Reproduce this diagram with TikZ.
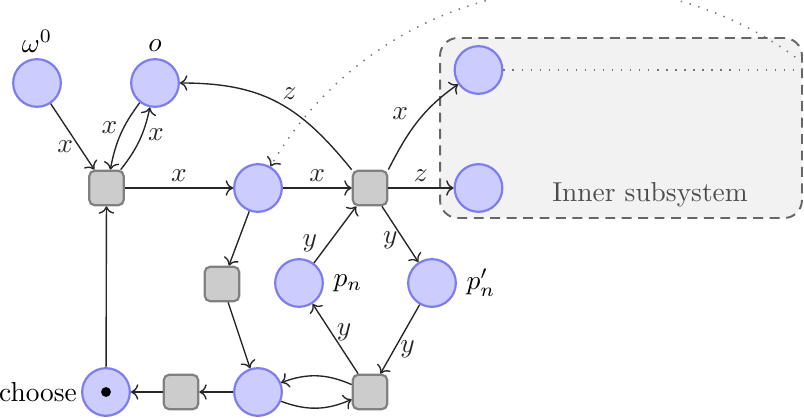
\documentclass[tikz,border=0pt]{standalone}
\usetikzlibrary{arrows.meta}
\definecolor{placeborder}{RGB}{125,125,240}
\definecolor{placefill}{RGB}{204,204,255}
\begin{document}
\begin{tikzpicture}[x=0.365pt,y=0.365pt,
  place/.style={circle,draw=placeborder,fill=placefill,line width=0.8pt,minimum size=17.4pt,inner sep=0pt},
  trans/.style={rectangle,draw=black!50,fill=black!20,line width=0.8pt,minimum size=12.6pt,inner sep=0pt,rounded corners=2pt},
  edge/.style={->,draw=black!85,line width=0.5pt},
  lbl/.style={inner sep=2pt,text=black!85},
  dots/.style={draw=black!55,line width=0.55pt,dash pattern=on 0.5pt off 2.8pt},
  innerbox/.style={rectangle,draw=black!60,fill=black!5,line width=0.7pt,dash pattern=on 3.6pt off 2.4pt,rounded corners=6.5pt,minimum width=132.1pt,minimum height=65.7pt,inner sep=0pt}]
\useasboundingbox (0,0) rectangle (804,418);
\clip (0,0) rectangle (804,418);
% inner subsystem box
\node[innerbox] (inner) at (621,290) {};
\node[text=black!70] (innerlabel) at (650,223) {Inner subsystem};
% places
\node[place,label={[label distance=-1.5pt]above:$\omega^0$}] (w0) at (37,335) {};
\node[place,label={[label distance=-1pt]above:$o$}] (o) at (155,335) {};
\node[place] (p2) at (258,230) {};
\node[place] (it) at (478.5,348) {};
\node[place] (ib) at (478.5,230) {};
\node[place,label=right:$p_n$] (pn) at (299,135) {};
\node[place,label=right:$p'_n$] (pnp) at (432,135) {};
\node[place] (pb) at (258,26) {};
\node[place,label={[label distance=-2pt]left:choose}] (ch) at (106,26) {};
\node[circle,fill=black,inner sep=0pt,minimum size=3.6pt] (tok) at (ch) {};
% transitions
\node[trans] (t1) at (106.5,230) {};
\node[trans] (t2) at (370,230) {};
\node[trans] (t3) at (222,134) {};
\node[trans] (t4) at (370,26) {};
\node[trans] (t5) at (181,26) {};
% arcs
\draw[edge] (w0) -- node[lbl,left,pos=0.65]{$x$} (t1);
\draw[edge] (o) to[bend right=13] node[lbl,left,pos=0.4]{$x$} (t1);
\draw[edge] (t1) to[bend right=13] node[lbl,right,pos=0.6]{$x$} (o);
\draw[edge] (t1) -- node[lbl,above]{$x$} (p2);
\draw[edge] (p2) -- node[lbl,above]{$x$} (t2);
\draw[edge] (t2) -- node[lbl,above]{$z$} (ib);
\draw[edge] (t2.north west) to[out=129,in=0,looseness=1.1] node[lbl,pos=0.42,above,yshift=1.5pt]{$z$} (o);
\draw[edge] (t2.north east) to[out=63,in=215] node[lbl,pos=0.45,above left]{$x$} (it);
\draw[edge] (pn) -- node[lbl,left,pos=0.35,xshift=-2pt]{$y$} (t2);
\draw[edge] (t2) -- node[lbl,left,pos=0.6]{$y$} (pnp);
\draw[edge] (t4) -- node[lbl,right,pos=0.6]{$y$} (pn);
\draw[edge] (pnp) -- node[lbl,right,pos=0.65]{$y$} (t4);
\draw[edge] (p2) -- (t3);
\draw[edge] (t3) -- (pb);
\draw[edge] (t4) to[bend right=22] (pb);
\draw[edge] (pb) to[bend right=22] (t4);
\draw[edge] (pb) -- (t5);
\draw[edge] (t5) -- (ch);
\draw[edge] (ch) -- (t1);
% zoom link
\coordinate (zs) at (802.5,355.5);
\draw[dots] (it) -- (it -| inner.east);
\draw[dots,-{To[color=black!80]}] (zs) to[out=142.5,in=59.7,distance=79.3pt] (p2.60);
\end{tikzpicture}
\end{document}
